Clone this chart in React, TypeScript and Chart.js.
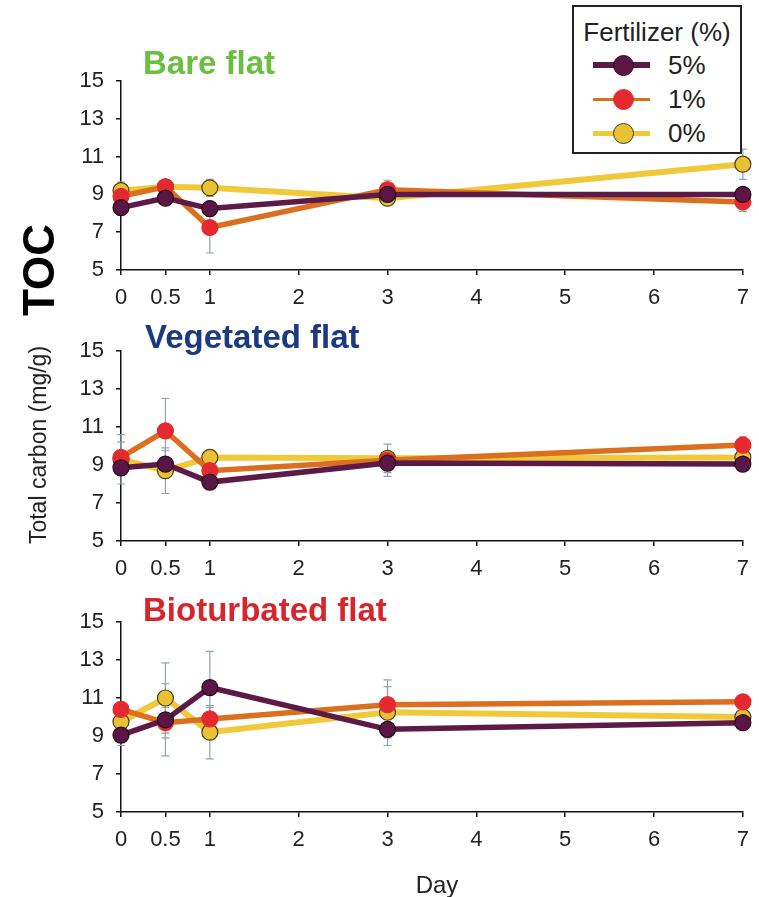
import React, { useEffect, useRef } from "react";
import { Chart, registerables } from "chart.js";
Chart.register(...registerables);

// ---- data ----
const days = [0, 0.5, 1, 3, 7];
const xTicks = [0, 0.5, 1, 2, 3, 4, 5, 6, 7];
const seriesLabels = ["5%", "1%", "0%"];
const panelTitles = ["Bare flat", "Vegetated flat", "Bioturbated flat"];

const bare5 = [8.3, 8.8, 8.25, 9.0, 9.0];
const bare1 = [8.9, 9.4, 7.25, 9.25, 8.6];
const bare0 = [9.2, 9.4, 9.35, 8.8, 10.6];
const bareSd5 = [0.3, 0.2, 0.4, 0.4, 0.3];
const bareSd1 = [0.3, 0.2, 1.35, 0.5, 0.5];
const bareSd0 = [0.45, 0.2, 0.45, 0.3, 0.8];

const veg5 = [8.85, 9.05, 8.1, 9.1, 9.05];
const veg1 = [9.4, 10.8, 8.7, 9.25, 10.05];
const veg0 = [9.3, 8.7, 9.4, 9.35, 9.4];
const vegSd5 = [0.3, 0.7, 0.4, 0.5, 0.2];
const vegSd1 = [0.8, 1.7, 0.4, 0.85, 0.45];
const vegSd0 = [1.3, 1.2, 0.4, 0.3, 0.2];

const bio5 = [9.05, 9.85, 11.55, 9.35, 9.7];
const bio1 = [10.4, 9.7, 9.9, 10.65, 10.8];
const bio0 = [9.75, 11.0, 9.2, 10.25, 10.0];
const bioSd5 = [0.55, 1.9, 1.9, 0.85, 0.2];
const bioSd1 = [0.4, 0.8, 0.6, 1.3, 0.35];
const bioSd0 = [0.6, 1.85, 1.4, 1.35, 0.3];

// ---- styles ----
const lineColors = ["#5c1a49", "#da6f1f", "#efc93a"];
const markerFill = ["#5a1745", "#e42a2e", "#e8c233"];
const markerBorder = ["#2a0818", "#e42a2e", "#4a3a1a"];
const titleColors = ["#6abf40", "#1c3a80", "#d8252b"];
const FONT = "'Liberation Sans', Arial, Helvetica, sans-serif";

const errorBarPlugin = {
  id: "errorBars",
  beforeDatasetsDraw(chart: any) {
    const ctx = chart.ctx;
    const ys = chart.scales.y;
    ctx.save();
    ctx.strokeStyle = "#8ea4ae";
    ctx.lineWidth = 1.2;
    chart.data.datasets.forEach((ds: any, i: number) => {
      const meta = chart.getDatasetMeta(i);
      (ds.errors || []).forEach((sd: number | null, j: number) => {
        if (sd == null) return;
        const v = ds.data[j].y;
        const x = meta.data[j].x;
        const yTop = ys.getPixelForValue(v + sd);
        const yBot = ys.getPixelForValue(v - sd);
        ctx.beginPath();
        ctx.moveTo(x, yTop);
        ctx.lineTo(x, yBot);
        ctx.moveTo(x - 4, yTop);
        ctx.lineTo(x + 4, yTop);
        ctx.moveTo(x - 4, yBot);
        ctx.lineTo(x + 4, yBot);
        ctx.stroke();
      });
    });
    ctx.restore();
  },
};

type PanelProps = {
  top: number;
  height: number;
  padTop: number;
  xHeight: number;
  values: number[][];
  errors: number[][];
};

function Panel({ top, height, padTop, xHeight, values, errors }: PanelProps) {
  const ref = useRef<HTMLCanvasElement | null>(null);
  useEffect(() => {
    if (!ref.current) return;
    const datasets = values.map((vals, i) => ({
      label: seriesLabels[i],
      data: vals.map((v, j) => ({ x: days[j], y: v })),
      errors: errors[i],
      borderColor: lineColors[i],
      backgroundColor: markerFill[i],
      pointBackgroundColor: markerFill[i],
      pointBorderColor: markerBorder[i],
      pointBorderWidth: 1.2,
      pointRadius: 8,
      borderWidth: i === 2 ? 6 : 5.5,
      tension: 0,
      clip: false as any,
    }));
    const chart = new Chart(ref.current, {
      type: "line",
      data: { datasets: datasets as any },
      plugins: [errorBarPlugin],
      options: {
        animation: false,
        responsive: false,
        layout: { padding: { top: padTop, left: 0, right: 9, bottom: 0 } },
        plugins: { legend: { display: false }, tooltip: { enabled: false }, title: { display: false } },
        scales: {
          x: {
            type: "linear",
            min: 0,
            max: 7,
            afterBuildTicks: (s: any) => {
              s.ticks = xTicks.map((v) => ({ value: v }));
            },
            afterFit: (s: any) => {
              s.height = xHeight;
            },
            ticks: {
              autoSkip: false,
              maxRotation: 0,
              padding: 10,
              color: "#222",
              font: { family: FONT, size: 22 },
              callback: (v: any) => String(v),
            },
            grid: { drawOnChartArea: false, drawTicks: true, tickLength: 5, color: "#111", lineWidth: 1.5 },
            border: { display: true, color: "#111", width: 1.5 },
          },
          y: {
            type: "linear",
            min: 5,
            max: 15,
            afterFit: (s: any) => {
              s.width = 121;
            },
            ticks: {
              stepSize: 2,
              padding: 12,
              color: "#222",
              font: { family: FONT, size: 22 },
            },
            grid: { drawOnChartArea: false, drawTicks: true, tickLength: 5, color: "#111", lineWidth: 1.5 },
            border: { display: true, color: "#111", width: 1.5 },
          },
        },
      },
    });
    return () => chart.destroy();
  }, []);
  return (
    <canvas
      ref={ref}
      width={759}
      height={height}
      style={{ position: "absolute", left: 0, top, width: 759, height }}
    />
  );
}

const titleStyle = (i: number, left: number, center: number): React.CSSProperties => ({
  position: "absolute",
  left,
  top: center - 16.5,
  fontFamily: FONT,
  fontWeight: "bold",
  fontSize: 33,
  lineHeight: "33px",
  color: titleColors[i],
  whiteSpace: "nowrap",
});

function LegendRow({ i, y }: { i: number; y: number }) {
  const thick = [6, 3, 5][i];
  return (
    <>
      <div
        style={{
          position: "absolute",
          left: 593,
          top: y - thick / 2,
          width: 57,
          height: thick,
          background: lineColors[i],
        }}
      />
      <div
        style={{
          position: "absolute",
          left: 623 - 10.5,
          top: y - 10.5,
          width: 21,
          height: 21,
          boxSizing: "border-box",
          borderRadius: "50%",
          background: markerFill[i],
          border: `1.5px solid ${markerBorder[i]}`,
        }}
      />
      <div
        style={{
          position: "absolute",
          left: 668,
          top: y - 13,
          fontFamily: FONT,
          fontSize: 26,
          lineHeight: "26px",
          color: "#222",
        }}
      >
        {seriesLabels[i]}
      </div>
    </>
  );
}

export default function App() {
  return (
    <div style={{ position: "absolute", left: 0, top: 0, width: 759, height: 897, background: "#fff", overflow: "hidden" }}>
      <Panel top={0} height={320} padTop={81} xHeight={50} values={[bare5, bare1, bare0]} errors={[bareSd5, bareSd1, bareSd0]} />
      <Panel top={320} height={270} padTop={31} xHeight={49} values={[veg5, veg1, veg0]} errors={[vegSd5, vegSd1, vegSd0]} />
      <Panel top={590} height={307} padTop={32} xHeight={85} values={[bio5, bio1, bio0]} errors={[bioSd5, bioSd1, bioSd0]} />

      <div style={titleStyle(0, 143, 62)}>{panelTitles[0]}</div>
      <div style={titleStyle(1, 145, 336)}>{panelTitles[1]}</div>
      <div style={titleStyle(2, 143, 609)}>{panelTitles[2]}</div>

      <div
        style={{
          position: "absolute",
          left: 572,
          top: 5,
          width: 170,
          height: 149,
          boxSizing: "border-box",
          border: "2px solid #222",
          background: "#fff",
        }}
      />
      <div
        style={{
          position: "absolute",
          left: 572,
          width: 170,
          top: 32 - 13,
          textAlign: "center",
          fontFamily: FONT,
          fontSize: 26,
          lineHeight: "26px",
          color: "#222",
        }}
      >
        Fertilizer (%)
      </div>
      <LegendRow i={0} y={65} />
      <LegendRow i={1} y={99} />
      <LegendRow i={2} y={133} />

      <div
        style={{
          position: "absolute",
          left: 39 - 60,
          top: 270 - 22,
          width: 120,
          height: 44,
          lineHeight: "44px",
          textAlign: "center",
          transform: "rotate(-90deg)",
          fontFamily: FONT,
          fontWeight: "bold",
          fontSize: 44,
          color: "#000",
        }}
      >
        TOC
      </div>
      <div
        style={{
          position: "absolute",
          left: 38 - 120,
          top: 445 - 12,
          width: 240,
          height: 24,
          lineHeight: "24px",
          textAlign: "center",
          transform: "rotate(-90deg)",
          fontFamily: FONT,
          fontSize: 23,
          color: "#222",
          whiteSpace: "nowrap",
        }}
      >
        Total carbon (mg/g)
      </div>
      <div
        style={{
          position: "absolute",
          left: 437 - 50,
          width: 100,
          top: 885 - 12,
          lineHeight: "24px",
          textAlign: "center",
          fontFamily: FONT,
          fontSize: 24,
          color: "#222",
        }}
      >
        Day
      </div>
    </div>
  );
}
